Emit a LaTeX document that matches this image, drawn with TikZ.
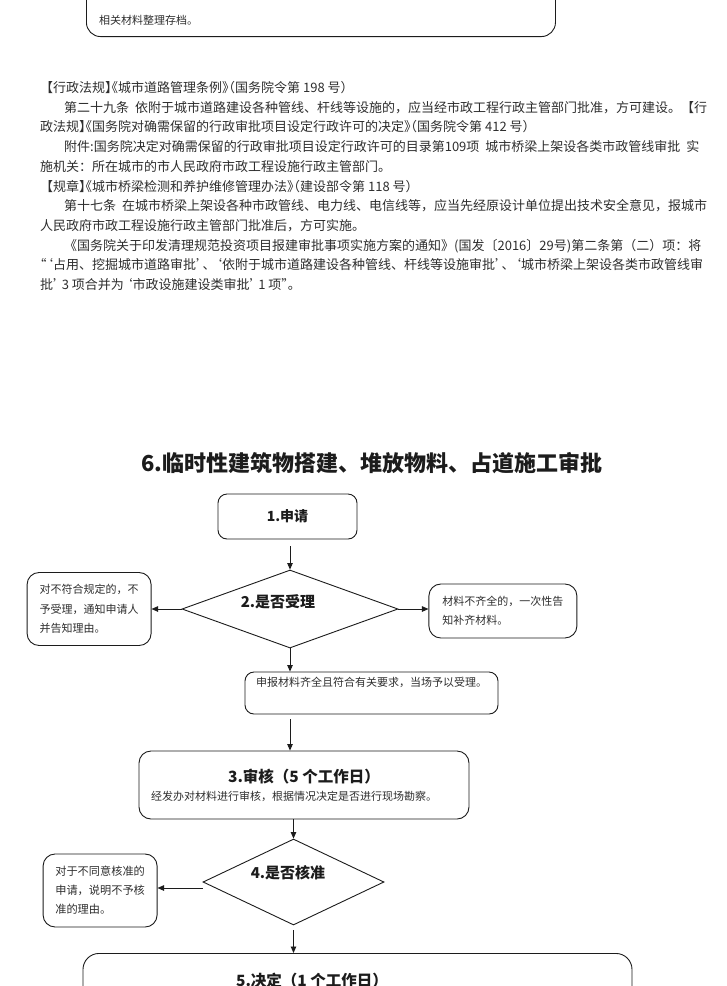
\documentclass[tikz,border=0pt]{standalone}
\usepackage{fontspec}
\setmainfont{Noto Sans CJK SC}
\usepackage{tikz}
\usetikzlibrary{arrows.meta,positioning,shapes.geometric,calc}
\definecolor{flink}{HTML}{1C1C1C}
\definecolor{fltext}{HTML}{2E2E2E}
% half-width opening / closing punctuation
\newcommand\flqo[1]{\makebox[0.5em][r]{#1}}
\newcommand\flqc[1]{\makebox[0.5em][l]{#1}}
\tikzset{
  flbox/.style={draw=flink, rounded corners=9pt, line width=0.9pt, fill=white, align=left, inner sep=0pt},
  flnote/.style={flbox, rounded corners=12pt, font=\fontsize{11}{19.5}\selectfont, text=fltext},
  fldiam/.style={diamond, draw=flink, line width=0.9pt, fill=white, inner sep=0pt},
  flhead/.style={font=\bfseries\fontsize{15}{18}\selectfont, text=flink, inner sep=0pt},
  fllaw/.style={anchor=west, inner sep=0pt, font=\fontsize{13}{16}\selectfont, text=fltext},
  flarrow/.style={-{Triangle[length=6.5pt,width=5.5pt]}, line width=0.9pt, draw=flink}
}
\begin{document}
\begin{tikzpicture}[x=1pt, y=1pt]
\path[use as bounding box, clip] (0,0) rectangle (727,-986);
\fill[white] (0,0) rectangle (727,-986);
% end of the previous item
\node[flbox, rounded corners=14pt, minimum width=469pt, minimum height=90pt, anchor=south west] (prevbox) at (86,-37) {};
\node[anchor=west, inner sep=0pt, font=\fontsize{11}{13}\selectfont, text=fltext] (prevtext) at (99,-20) {相关材料整理存档。};
% legal basis
\node[fllaw] (law1) at (40,-88) {【行政法规\flqc{】}\flqo{《}城市道路管理条例\flqc{》}\flqo{（}国务院令第 198 号）};
\node[fllaw] (law2) at (64,-108) {第二十九条\hspace{6pt}依附于城市道路建设各种管线、杆线等设施的，应当经市政工程行政主管部门批准，方可建设。【行};
\node[fllaw] (law3) at (40,-127) {政法规\flqc{】}\flqo{《}国务院对确需保留的行政审批项目设定行政许可的决定\flqc{》}\flqo{（}国务院令第 412 号）};
\node[fllaw] (law4) at (64,-147) {附件:国务院决定对确需保留的行政审批项目设定行政许可的目录第109项\hspace{6pt}城市桥梁上架设各类市政管线审批\hspace{6pt}实};
\node[fllaw] (law5) at (40,-167) {施机关：所在城市的市人民政府市政工程设施行政主管部门。};
\node[fllaw] (law6) at (40,-187) {【规章\flqc{】}\flqo{《}城市桥梁检测和养护维修管理办法\flqc{》}\flqo{（}建设部令第 118 号）};
\node[fllaw] (law7) at (64,-206) {第十七条\hspace{6pt}在城市桥梁上架设各种市政管线、电力线、电信线等，应当先经原设计单位提出技术安全意见，报城市};
\node[fllaw] (law8) at (40,-226) {人民政府市政工程设施行政主管部门批准后，方可实施。};
\node[fllaw] (law9) at (64,-246) {《国务院关于印发清理规范投资项目报建审批事项实施方案的通知》(国发〔2016〕29号)第二条第（二）项：将};
\node[fllaw] (law10) at (40,-265) {\flqo{“}\flqo{‘}占用、挖掘城市道路审批\flqc{’}、\flqo{‘}依附于城市道路建设各种管线、杆线等设施审批\flqc{’}、\flqo{‘}城市桥梁上架设各类市政管线审};
\node[fllaw] (law11) at (40,-285) {批\flqc{’}\,3 项合并为\,\flqo{‘}市政设施建设类审批\flqc{’}\,1 项\flqc{”}。};
% flow chart
\node[font=\bfseries\fontsize{22}{26}\selectfont, text=flink] (title) at (372,-463) {6.临时性建筑物搭建、堆放物料、占道施工审批};
\node[flbox, minimum width=139pt, minimum height=45pt, flhead, font=\bfseries\fontsize{14}{16}\selectfont] (apply) at (287.5,-516.5) {1.申请};
\node[fldiam, minimum width=216pt, minimum height=78pt] (accept) at (290,-609) {};
\node[flhead] (acceptlbl) at ([xshift=-12pt,yshift=7pt]accept.center) {2.是否受理};
\node[flnote, minimum width=124pt, minimum height=73pt, left=30pt of accept] (reject) {对不符合规定的，不\\予受理，通知申请人\\并告知理由。};
\node[flnote, minimum width=148pt, minimum height=54pt, font=\fontsize{11}{19}\selectfont, right=30pt of accept, yshift=-2pt] (supplement) {材料不齐全的，一次性告\\知补齐材料。};
\node[flnote, rounded corners=9pt, minimum width=253pt, minimum height=42pt, text depth=22pt] (accepted) at (371.5,-693) {申报材料齐全且符合有关要求，当场予以受理。};
\node[flbox, rounded corners=12pt, align=center, minimum width=330pt, minimum height=68pt, font=\fontsize{11}{18}\selectfont, text=fltext] (review) at (304,-785)
  {{\bfseries\fontsize{15.5}{18}\selectfont\color{flink}3.审核（5 个工作日）}\\经发办对材料进行审核，根据情况决定是否进行现场勘察。\hspace*{20pt}};
\node[fldiam, minimum width=181pt, minimum height=86pt] (check) at (293.5,-882) {};
\node[flhead] (checklbl) at ([xshift=-5.5pt,yshift=9pt]check.center) {4.是否核准};
\node[flnote, minimum width=114pt, minimum height=73pt, font=\fontsize{11.2}{19}\selectfont, left=45pt of check, yshift=-8.5pt] (refuse) {对于不同意核准的\\申请，说明不予核\\准的理由。};
\node[flbox, rounded corners=16pt, minimum width=549pt, minimum height=90pt, anchor=north] (decision) at (357.5,-953) {};
\node[flhead, font=\bfseries\fontsize{15.5}{18}\selectfont] (decisionlbl) at (312,-981) {5.决定（1 个工作日）};
\draw[flarrow, shorten <=7pt] (apply.south -| accept.north) -- (accept.north);
\draw[flarrow] (accept.west) -- (reject.east);
\draw[flarrow] (accept.east) -- (accept.east -| supplement.west);
\draw[flarrow] (accept.south) -- (accept.south |- accepted.north);
\draw[flarrow, shorten <=5pt] (accept.south |- accepted.south) -- (accept.south |- review.north);
\draw[flarrow] (review.south -| check.north) -- (check.north);
\draw[flarrow] ([yshift=-6pt]check.west) -- ([yshift=-6pt]check.west -| refuse.east);
\draw[flarrow, shorten <=5pt] (check.south) -- (check.south |- decision.north);
\end{tikzpicture}
\end{document}
